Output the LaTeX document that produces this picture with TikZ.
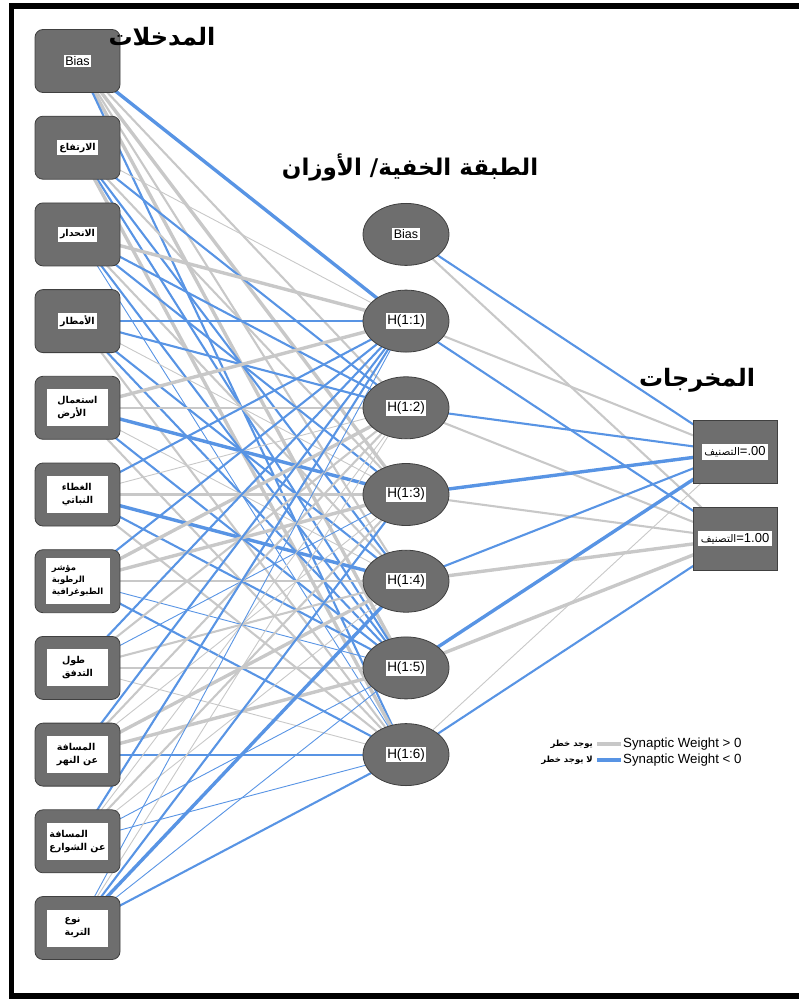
\documentclass[tikz,border=0pt]{standalone}
\usepackage{fontspec}
\setmainfont{Liberation Sans}
\newfontfamily\arabicfont[Script=Arabic]{DejaVu Sans}
\TeXXeTstate=1
\newcommand{\artxt}[1]{{\arabicfont\beginR #1\endR}}
\usetikzlibrary{shapes.geometric,backgrounds}

\definecolor{nodegray}{RGB}{110,110,110}
\definecolor{wpos}{RGB}{200,200,200}
\definecolor{wneg}{RGB}{88,148,228}

\begin{document}
\begin{tikzpicture}[x=1pt,y=-1pt,
  inbox/.style={draw=black!75,fill=nodegray,rounded corners=8,minimum width=85,minimum height=63,line width=0.8},
  hidnode/.style={ellipse,draw=black!75,fill=nodegray,minimum width=86,minimum height=62,line width=0.8},
  outbox/.style={draw=black!75,fill=nodegray,minimum width=84,minimum height=63,line width=0.8},
  lbl/.style={fill=white,inner sep=1.5,font=\fontsize{12.5}{14}\selectfont},
  arlbl/.style={fill=white,inner sep=2.5,align=left,font=\fontsize{9.5}{13}\selectfont\bfseries},
  arbig/.style={arlbl,minimum width=61,minimum height=37},
  ttl/.style={font=\fontsize{24}{28}\selectfont\bfseries},
  gthin/.style={wpos,line width=0.9},
  gmed/.style={wpos,line width=2.1},
  gthick/.style={wpos,line width=3.4},
  bthin/.style={wneg,line width=0.9},
  bmed/.style={wneg,line width=2.1},
  bthick/.style={wneg,line width=3.4}]
\useasboundingbox (0,0) rectangle (798,1003);
\draw[line width=5.5] (800,6) -- (11.5,6) -- (11.5,996) -- (800,996);

% inputs
\node[inbox] (in0) at (77.5,61) {};
\node[lbl] (in0l) at (in0) {Bias};
\node[inbox] (in1) at (77.5,147.7) {};
\node[arlbl] (in1l) at (in1) {\artxt{الارتفاع}};
\node[inbox] (in2) at (77.5,234.4) {};
\node[arlbl] (in2l) at (in2) {\artxt{الانحدار}};
\node[inbox] (in3) at (77.5,321.1) {};
\node[arlbl] (in3l) at (in3) {\artxt{الأمطار}};
\node[inbox] (in4) at (77.5,407.8) {};
\node[arbig] (in4l) at (in4) {\artxt{استعمال}\\\artxt{الأرض}};
\node[inbox] (in5) at (77.5,494.5) {};
\node[arbig] (in5l) at (in5) {\artxt{الغطاء}\\\artxt{النباتي}};
\node[inbox] (in6) at (77.5,581.2) {};
\node[arbig,inner sep=1.5,minimum width=64,minimum height=46,font=\fontsize{8.5}{12}\selectfont\bfseries] (in6l) at (in6) {\artxt{مؤشر}\\\artxt{الرطوبة}\\\artxt{الطبوغرافية}};
\node[inbox] (in7) at (77.5,667.9) {};
\node[arbig] (in7l) at (in7) {\artxt{طول}\\\artxt{التدفق}};
\node[inbox] (in8) at (77.5,754.6) {};
\node[arbig] (in8l) at (in8) {\artxt{المسافة}\\\artxt{عن النهر}};
\node[inbox] (in9) at (77.5,841.3) {};
\node[arbig,inner sep=1.5] (in9l) at (in9) {\artxt{المسافة}\\\artxt{عن الشوارع}};
\node[inbox] (in10) at (77.5,928) {};
\node[arbig] (in10l) at (in10) {\artxt{نوع}\\\artxt{التربة}};

% hidden layer
\node[hidnode] (hb) at (406,234.4) {};
\node[lbl] (hbl) at (hb) {Bias};
\foreach \i/\y in {1/321.1,2/407.8,3/494.5,4/581.2,5/667.9,6/754.6}{
  \node[hidnode] (h\i) at (406,\y) {};
  \node[lbl,font=\fontsize{13.5}{15}\selectfont] (h\i l) at (h\i) {H(1:\i)};
}

% outputs
\node[outbox] (o1) at (735,452) {};
\node[lbl,inner sep=2.5,font=\fontsize{13}{15}\selectfont] (o1l) at (o1) {\artxt{\fontsize{10.5}{12}\selectfont التصنيف}=.00};
\node[outbox] (o2) at (735,538.5) {};
\node[lbl,inner sep=2.5,font=\fontsize{13}{15}\selectfont] (o2l) at (o2) {\artxt{\fontsize{10.5}{12}\selectfont التصنيف}=1.00};

% titles
\node[ttl] (tin) at (162,37) {\artxt{المدخلات}};
\node[ttl,font=\fontsize{23}{27}\selectfont\bfseries] (thid) at (410,167) {\artxt{الطبقة الخفية/ الأوزان}};
\node[ttl] (tout) at (697,380) {\artxt{المخرجات}};

% synaptic weights
\begin{scope}[on background layer]
\foreach \a/\b/\s in {in0/h1/bthick,in0/h2/gmed,in0/h3/gthick,in0/h4/gmed,in0/h5/gthick,in0/h6/bmed,
  in1/h1/gthin,in1/h2/bmed,in1/h3/gmed,in1/h4/bmed,in1/h5/bmed,in1/h6/gthick,
  in2/h1/gthick,in2/h2/bmed,in2/h3/bmed,in2/h4/gmed,in2/h5/bmed,in2/h6/bthin,
  in3/h1/bmed,in3/h2/bmed,in3/h3/gthin,in3/h4/bmed,in3/h5/bmed,in3/h6/gmed,
  in4/h1/gthick,in4/h2/gmed,in4/h3/bthick,in4/h4/gthin,in4/h5/bmed,in4/h6/gmed,
  in5/h1/bmed,in5/h2/gthin,in5/h3/gmed,in5/h4/bthick,in5/h5/bmed,in5/h6/gmed,
  in6/h1/bmed,in6/h2/gthick,in6/h3/gthick,in6/h4/gmed,in6/h5/bthin,in6/h6/bmed,
  in7/h1/bmed,in7/h2/gmed,in7/h3/bthin,in7/h4/gmed,in7/h5/gmed,in7/h6/gthin,
  in8/h1/bmed,in8/h2/gmed,in8/h3/gthin,in8/h4/gthick,in8/h5/gthick,in8/h6/bmed,
  in9/h1/bmed,in9/h2/gthin,in9/h3/gmed,in9/h4/gthin,in9/h5/bthin,in9/h6/bthin,
  in10/h1/bthin,in10/h2/gthin,in10/h3/bmed,in10/h4/bthick,in10/h5/bthin,in10/h6/bmed,
  hb/o1/bmed,hb/o2/gmed,h1/o1/gmed,h1/o2/bmed,h2/o1/bmed,h2/o2/gmed,
  h3/o1/bthick,h3/o2/gmed,h4/o1/bmed,h4/o2/gthick,h5/o1/bthick,h5/o2/gthick,
  h6/o1/gthin,h6/o2/bmed}
  \draw[\s] (\a.center) -- (\b.center);
\end{scope}

% legend
\coordinate (lg1a) at (597,744);
\coordinate (lg1b) at (621,744);
\coordinate (lg2a) at (597,760);
\coordinate (lg2b) at (621,760);
\draw[gthick] (lg1a) -- (lg1b);
\draw[bthick] (lg2a) -- (lg2b);
\node[anchor=east,inner sep=4,font=\fontsize{8.5}{10}\selectfont\bfseries] (lg1t) at (lg1a) {\artxt{يوجد خطر}};
\node[anchor=east,inner sep=4,font=\fontsize{8.5}{10}\selectfont\bfseries] (lg2t) at (lg2a) {\artxt{لا يوجد خطر}};
\node[anchor=west,inner sep=2,font=\fontsize{13.3}{15}\selectfont] (lg1w) at (lg1b) {Synaptic Weight > 0};
\node[anchor=west,inner sep=2,font=\fontsize{13.3}{15}\selectfont] (lg2w) at (lg2b) {Synaptic Weight < 0};
\end{tikzpicture}
\end{document}
